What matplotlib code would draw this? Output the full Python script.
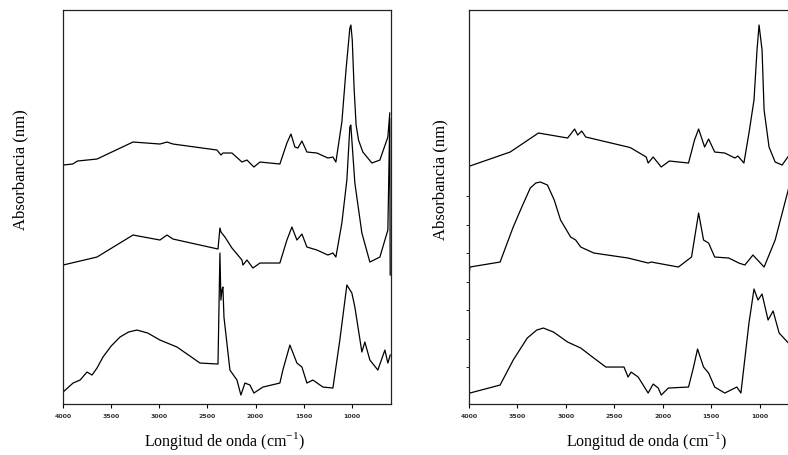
import matplotlib
matplotlib.use("Agg")
import matplotlib.pyplot as plt

plt.rcParams['font.family'] = ['Liberation Serif', 'DejaVu Serif']
plt.rcParams['mathtext.fontset'] = 'custom'
plt.rcParams['mathtext.rm'] = 'Liberation Serif'

# ---- left panel spectra (wavenumber cm-1, absorbance in arbitrary units)
left_top_wn = [4000, 3900, 3850, 3647, 3273, 2993, 2920, 2858, 2401, 2359, 2339, 2245,
               2141, 2089, 2017, 1954, 1747, 1674, 1632, 1591, 1560, 1518, 1466, 1362,
               1248, 1196, 1165, 1103, 1060, 1020, 1009, 995, 975, 955, 930, 885, 791,
               708, 625, 605]
left_top_abs = [2.39, 2.40, 2.43, 2.45, 2.62, 2.60, 2.62, 2.60, 2.54, 2.49, 2.51, 2.51,
                2.42, 2.44, 2.37, 2.42, 2.40, 2.61, 2.70, 2.57, 2.56, 2.63, 2.52, 2.51,
                2.46, 2.47, 2.42, 2.82, 3.34, 3.76, 3.79, 3.64, 3.14, 2.79, 2.64, 2.52,
                2.41, 2.44, 2.67, 2.91]

left_mid_wn = [4000, 3647, 3273, 2993, 2920, 2858, 2390, 2370, 2359, 2318, 2245, 2141,
               2131, 2089, 2027, 1954, 1747, 1674, 1622, 1570, 1518, 1466, 1362, 1248,
               1196, 1165, 1103, 1051, 1020, 1010, 968, 895, 812, 708, 625, 605, 601]
left_mid_abs = [1.39, 1.47, 1.69, 1.64, 1.69, 1.65, 1.55, 1.76, 1.72, 1.67, 1.56, 1.44,
                1.39, 1.44, 1.36, 1.41, 1.41, 1.64, 1.77, 1.64, 1.70, 1.57, 1.54, 1.49,
                1.51, 1.47, 1.81, 2.24, 2.77, 2.79, 2.21, 1.71, 1.42, 1.47, 1.74, 2.86, 1.29]

left_bot_wn = [4000, 3896, 3823, 3751, 3699, 3647, 3585, 3500, 3408, 3320, 3232, 3120,
               2993, 2816, 2577, 2390, 2370, 2360, 2349, 2339, 2328, 2266, 2193, 2152,
               2110, 2058, 2017, 1923, 1747, 1716, 1643, 1570, 1518, 1466, 1404, 1300,
               1196, 1124, 1051, 999, 968, 895, 864, 812, 729, 656, 625, 600]
left_bot_abs = [0.12, 0.21, 0.24, 0.32, 0.29, 0.36, 0.47, 0.58, 0.67, 0.72, 0.74, 0.71,
                0.64, 0.57, 0.41, 0.40, 1.51, 1.04, 1.14, 1.17, 0.87, 0.34, 0.24, 0.09,
                0.21, 0.19, 0.11, 0.17, 0.21, 0.34, 0.59, 0.41, 0.37, 0.21, 0.24, 0.17,
                0.16, 0.64, 1.19, 1.11, 0.97, 0.52, 0.62, 0.44, 0.34, 0.54, 0.41, 0.49]

# ---- right panel spectra
right_top_wn = [4000, 3990, 3574, 3283, 2982, 2910, 2878, 2837, 2795, 2359, 2328, 2172,
                2152, 2100, 2017, 1934, 1736, 1674, 1632, 1570, 1529, 1466, 1362, 1258,
                1227, 1165, 1113, 1061, 1030, 1009, 978, 957, 906, 843, 771, 698]
right_top_abs = [2.38, 2.38, 2.52, 2.71, 2.66, 2.75, 2.69, 2.73, 2.67, 2.57, 2.56, 2.47,
                 2.41, 2.47, 2.37, 2.43, 2.41, 2.64, 2.75, 2.57, 2.65, 2.52, 2.51, 2.46,
                 2.48, 2.41, 2.71, 3.04, 3.54, 3.79, 3.54, 2.94, 2.57, 2.42, 2.39, 2.49]

right_mid_wn = [4000, 3998, 3990, 3678, 3543, 3450, 3367, 3310, 3263, 3190, 3120, 3055,
                2951, 2899, 2847, 2712, 2359, 2152, 2120, 1840, 1705, 1632, 1581, 1529,
                1466, 1321, 1217, 1155, 1072, 957, 843, 687]
right_mid_abs = [1.64, 1.27, 1.37, 1.42, 1.77, 1.98, 2.16, 2.21, 2.22, 2.19, 2.04, 1.84,
                 1.67, 1.64, 1.57, 1.51, 1.46, 1.41, 1.42, 1.37, 1.47, 1.91, 1.64, 1.61,
                 1.47, 1.46, 1.41, 1.39, 1.49, 1.37, 1.64, 2.22]

right_bot_wn = [4000, 3990, 3678, 3543, 3398, 3300, 3232, 3128, 2982, 2847, 2712, 2588,
                2401, 2359, 2328, 2255, 2152, 2100, 2048, 2017, 1944, 1736, 1684, 1643,
                1581, 1529, 1466, 1362, 1238, 1196, 1113, 1061, 1020, 978, 916, 864, 802, 687]
right_bot_abs = [0.10, 0.11, 0.19, 0.44, 0.66, 0.74, 0.76, 0.72, 0.62, 0.56, 0.46, 0.37,
                 0.37, 0.27, 0.32, 0.27, 0.11, 0.20, 0.16, 0.09, 0.16, 0.17, 0.37, 0.55,
                 0.37, 0.31, 0.17, 0.11, 0.17, 0.11, 0.81, 1.15, 1.04, 1.10, 0.84, 0.93,
                 0.71, 0.59]

xticks = [4000, 3500, 3000, 2500, 2000, 1500, 1000]
xlabel = 'Longitud de onda (cm$^{-1}$)'
ylabel = 'Absorbancia (nm)'

fig = plt.figure(figsize=(7.88, 4.55), dpi=100)
ax1 = fig.add_axes([0.080, 0.112, 0.416, 0.866])
ax2 = fig.add_axes([0.595, 0.112, 0.410, 0.866])

for wn, ab in [(left_top_wn, left_top_abs), (left_mid_wn, left_mid_abs), (left_bot_wn, left_bot_abs)]:
    ax1.plot(wn, ab, color='black', lw=0.9)
for wn, ab in [(right_top_wn, right_top_abs), (right_mid_wn, right_mid_abs), (right_bot_wn, right_bot_abs)]:
    ax2.plot(wn, ab, color='black', lw=0.9)

ax1.set_xlim(4000, 594)
ax2.set_xlim(4000, 670)
for ax in (ax1, ax2):
    ax.set_ylim(0, 3.94)
    ax.set_xticks(xticks)
    ax.set_xticklabels([str(t) for t in xticks], fontsize=4.5, family='DejaVu Sans',
                       fontweight='bold', color='#333333')
    ax.tick_params(axis='x', direction='out', length=3, width=0.8, pad=4)
    for s in ax.spines.values():
        s.set_linewidth(0.9)
        s.set_color('#222222')
ax1.set_yticks([])
ax2.set_yticks([0.37 + 0.285 * k for k in range(7)])
ax2.set_yticklabels([])
ax2.tick_params(axis='y', direction='out', length=2, width=0.6)
ax2.spines['right'].set_visible(False)

fig.text(20 / 788, 1 - 170 / 455, ylabel, rotation=90, ha='center', va='center', fontsize=12)
fig.text(440 / 788, 1 - 180 / 455, ylabel, rotation=90, ha='center', va='center', fontsize=12)
fig.text(224 / 788, 1 - 441 / 455, xlabel, ha='center', va='center', fontsize=11.5)
fig.text(646 / 788, 1 - 441 / 455, xlabel, ha='center', va='center', fontsize=11.5)

fig.savefig('out.png', dpi=100)
